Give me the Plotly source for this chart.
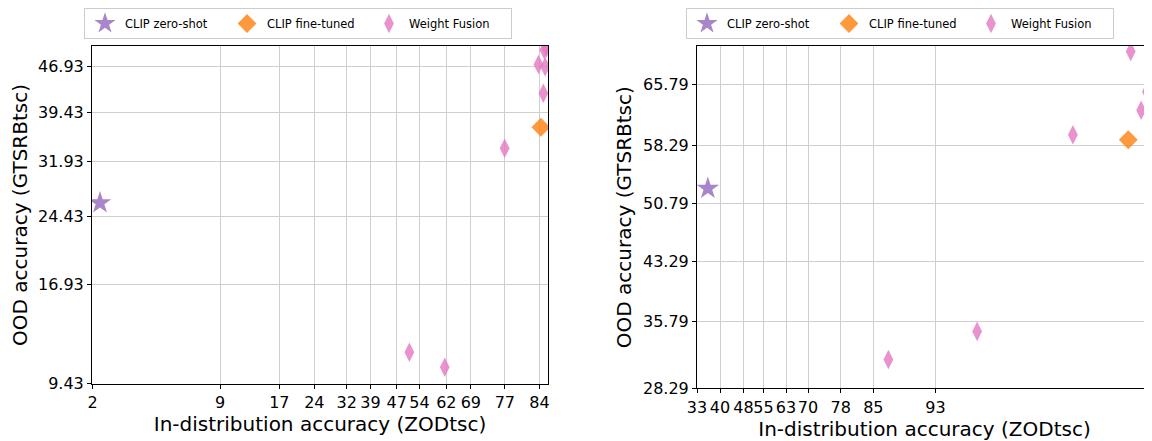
import numpy as np
import plotly.graph_objects as go

# ---------------- data ----------------
series_names = ["CLIP zero-shot", "CLIP fine-tuned", "Weight Fusion"]

left_zero_shot_x = [2.36]
left_zero_shot_y = [26.23]
left_finetuned_x = [84.74]
left_finetuned_y = [37.2]
left_fusion_x = [76.9, 51.1, 61.5, 84.2, 85.7, 85.3, 85.5, 86.0]
left_fusion_y = [34.0, 11.77, 10.64, 47.3, 46.93, 42.6, 49.65, 50.0]

right_zero_shot_x = [36.33]
right_zero_shot_y = [52.72]
right_finetuned_x = [99.09]
right_finetuned_y = [59.0]
right_fusion_x = [87.11, 94.15, 97.28, 99.51, 99.70, 99.78, 99.17, 99.8]
right_fusion_y = [31.52, 34.68, 59.61, 62.61, 64.88, 67.15, 69.82, 70.0]

left_x_tickvals = [1.93, 9.43, 16.93, 24.43, 31.93, 39.43, 46.93, 54.43, 61.93, 69.43, 76.93, 84.43]
left_x_ticktext = ["2", "9", "17", "24", "32", "39", "47", "54", "62", "69", "77", "84"]
left_y_tickvals = [9.43, 16.93, 24.43, 31.93, 39.43, 46.93]
left_y_ticktext = ["9.43", "16.93", "24.43", "31.93", "39.43", "46.93"]
right_x_tickvals = [32.79, 40.29, 47.79, 55.29, 62.79, 70.29, 77.79, 85.29, 92.79]
right_x_ticktext = ["33", "40", "48", "55", "63", "70", "78", "85", "93"]
right_y_tickvals = [28.29, 35.79, 43.29, 50.79, 58.29, 65.79]
right_y_ticktext = ["28.29", "35.79", "43.29", "50.79", "58.29", "65.79"]

# ---------------- custom (non-linear) axis scales ----------------
# anchor values and their screen positions (layout only, window pixels)
LX_VALS = [1.89] + left_x_tickvals + [86.35]
LX_PIX = [92, 92.7, 220, 279.3, 314.3, 346.7, 370.5, 396.7, 419.5, 446.3, 470.8, 504.8, 539.5, 548]
LY_VALS = [9.38] + left_y_tickvals + [50.3]
LY_PIX = [384, 383.3, 284, 216, 161.7, 112.7, 66.7, 46]
RX_VALS = right_x_tickvals + [100.29]
RX_PIX = [697, 720, 743.5, 763.5, 786, 808, 840.7, 873.3, 935.5, 1165]
RY_VALS = right_y_tickvals + [70.5]
RY_PIX = [388.3, 321.5, 261.7, 203.3, 145.5, 84.3, 46]

L_BOX = (92, 548, 384, 46)     # x0, x1, ybottom, ytop (window pixels)
R_BOX = (697, 1152, 388.3, 46)

PAGE_MARGIN = 8                # default body margin of the html page
W, H = 1152 - PAGE_MARGIN, 441 - PAGE_MARGIN


def fx_dom(p):
    return (p - PAGE_MARGIN) / W


def fy_dom(p):
    return 1 - (p - PAGE_MARGIN) / H


def scale(vals, pix, p0, p1):
    def f(v):
        return (np.interp(np.asarray(v, float), vals, pix) - p0) / (p1 - p0)
    return f


lx = scale(LX_VALS, LX_PIX, L_BOX[0], L_BOX[1])
ly = scale(LY_VALS, LY_PIX, L_BOX[2], L_BOX[3])
rx = scale(RX_VALS, RX_PIX, R_BOX[0], R_BOX[1])
ry = scale(RY_VALS, RY_PIX, R_BOX[2], R_BOX[3])

FONT = "DejaVu Sans"
PURPLE = "rgba(148,103,189,0.8)"
ORANGE = "rgba(255,127,14,0.8)"
PINK = "rgba(227,119,194,0.8)"

fig = go.Figure()


def add_panel(xs, ys, fx, fy, xa, ya, leg):
    styles = [("star", 17, PURPLE), ("diamond", 14.5, ORANGE), ("diamond-tall", 14, PINK)]
    for name, x, y, (sym, size, col) in zip(series_names, xs, ys, styles):
        fig.add_trace(go.Scatter(
            x=fx(x), y=fy(y), mode="markers", name=name,
            xaxis=xa, yaxis=ya, legend=leg, cliponaxis=True,
            marker=dict(symbol=sym, size=size, color=col, line=dict(width=0)),
            text=[f"({a}, {b})" for a, b in zip(x, y)], hoverinfo="name+text",
        ))


add_panel([left_zero_shot_x, left_finetuned_x, left_fusion_x],
          [left_zero_shot_y, left_finetuned_y, left_fusion_y], lx, ly, "x", "y", "legend")
add_panel([right_zero_shot_x, right_finetuned_x, right_fusion_x],
          [right_zero_shot_y, right_finetuned_y, right_fusion_y], rx, ry, "x2", "y2", "legend2")

axis_common = dict(
    range=[0, 1], showgrid=True, gridcolor="#cfcfcf", gridwidth=1, zeroline=False,
    showline=True, linecolor="black", linewidth=1, ticks="outside", ticklen=4,
    tickwidth=1, tickcolor="black", tickfont=dict(family=FONT, size=16, color="black"),
    title_font=dict(family=FONT, size=20, color="black"), automargin=False, tickangle=0,
)

legend_common = dict(orientation="h", xanchor="left", y=fy_dom(8), yanchor="top",
                     bordercolor="#cccccc", borderwidth=1, bgcolor="white",
                     entrywidth=97, entrywidthmode="pixels",
                     font=dict(family=FONT, size=11.5, color="black"))

fig.update_layout(
    width=W, height=H, margin=dict(l=0, r=0, t=0, b=0, autoexpand=False),
    paper_bgcolor="white", plot_bgcolor="white",
    font=dict(family=FONT, color="black"),
    xaxis=dict(axis_common, domain=[fx_dom(L_BOX[0]), fx_dom(L_BOX[1])], anchor="y", mirror=True,
               tickvals=lx(left_x_tickvals), ticktext=left_x_ticktext,
               title=dict(text="In-distribution accuracy (ZODtsc)", standoff=4)),
    yaxis=dict(axis_common, domain=[fy_dom(L_BOX[2]), fy_dom(L_BOX[3])], anchor="x", mirror=True,
               tickvals=ly(left_y_tickvals), ticktext=left_y_ticktext,
               title=dict(text="OOD accuracy (GTSRBtsc)", standoff=5)),
    xaxis2=dict(axis_common, domain=[fx_dom(R_BOX[0]), 1.0], anchor="y2", mirror=True,
                tickvals=rx(right_x_tickvals), ticktext=right_x_ticktext,
                title=dict(text="In-distribution accuracy (ZODtsc)", standoff=4)),
    yaxis2=dict(axis_common, domain=[fy_dom(R_BOX[2]), fy_dom(R_BOX[3])], anchor="x2", mirror=False,
                tickvals=ry(right_y_tickvals), ticktext=right_y_ticktext,
                title=dict(text="OOD accuracy (GTSRBtsc)", standoff=5)),
    legend=dict(legend_common, x=fx_dom(84)),
    legend2=dict(legend_common, x=fx_dom(686)),
    showlegend=True,
)

fig.write_html("out.html")
